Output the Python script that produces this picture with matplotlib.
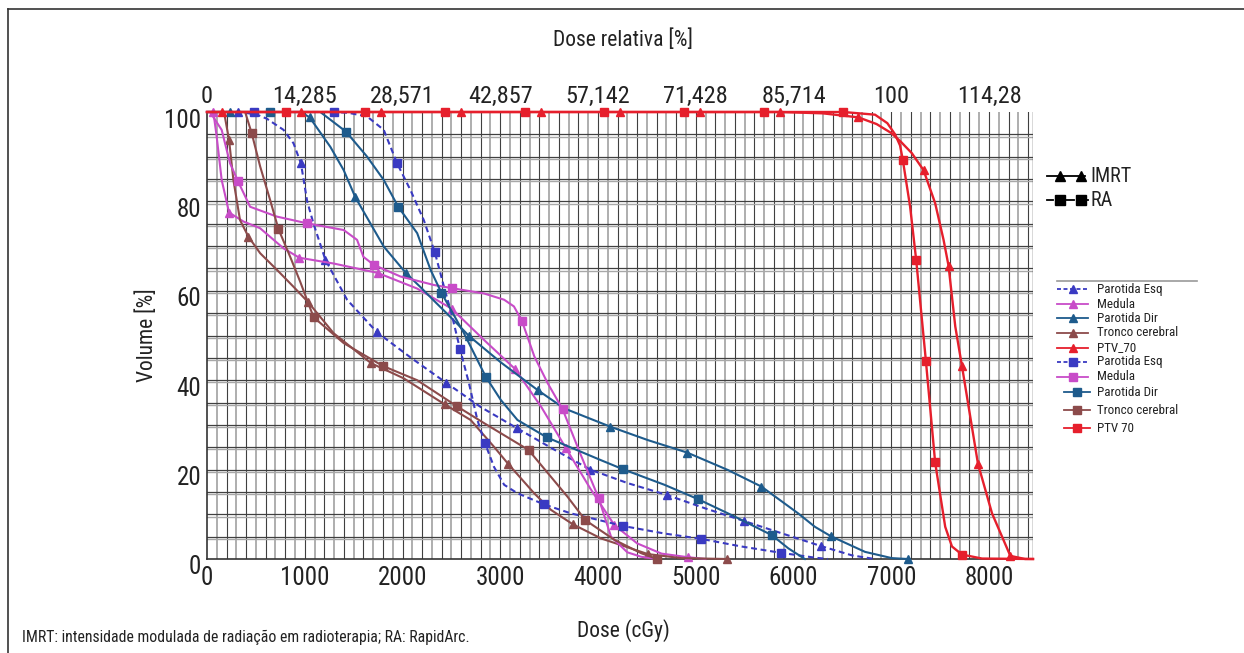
import matplotlib
matplotlib.use("Agg")
import matplotlib.pyplot as plt
import matplotlib.transforms as mtransforms
from matplotlib import font_manager
from matplotlib.lines import Line2D

W, H = 1244, 653

# --- data (dose in cGy, volume in %) ---
esq_imrt_dose = [0, 318, 500, 612, 783, 885, 961, 1025, 1090, 1210, 1433, 1740, 2100, 2448, 2800, 3176,
                 3550, 3921, 4300, 4708, 5100, 5494, 5900, 6280, 6600, 6830]
esq_imrt_vol = [100, 100, 99.5, 98.5, 96, 93, 88.5, 80, 75, 67, 58, 50.7, 44.8, 39.4, 34, 29.2,
                24.5, 20, 17, 14.3, 11.3, 8.5, 5.6, 2.9, 0.8, 0]
esq_imrt_marks = [318, 961, 1210, 1740, 2448, 3176, 3921, 4708, 5494, 6280]

med_imrt_dose = [0, 65, 99, 150, 226, 373, 543, 783, 944, 1296, 1747, 2150, 2503, 2834, 3152, 3420,
                 3672, 3920, 4167, 4400, 4650, 4920, 5100]
med_imrt_vol = [100, 100, 94.5, 84.8, 77.5, 75.5, 74, 69.5, 67.4, 66.1, 64, 60.5, 56, 49, 42.5, 34,
                24.8, 15.8, 7.6, 3.5, 1.2, 0.4, 0]
med_imrt_marks = [65, 226, 944, 1747, 2503, 3152, 3672, 4167, 4920]

dir_imrt_dose = [0, 236, 960, 1050, 1262, 1398, 1518, 1808, 2038, 2185, 2321, 2561, 2680, 3005, 3382,
                 3654, 4126, 4510, 4913, 5330, 5672, 6048, 6219, 6382, 6731, 7005, 7169]
dir_imrt_vol = [100, 100, 100, 98.8, 92.2, 87, 80.9, 69.9, 63.9, 60.8, 57.8, 52.6, 49.9, 44, 37.8,
                33.7, 29.6, 26.6, 23.8, 19.9, 16.2, 10.2, 7.2, 5.1, 1.6, 0.2, 0]
dir_imrt_marks = [236, 1050, 1518, 2038, 2680, 3382, 4126, 4913, 5672, 6382, 7169]

tr_imrt_dose = [0, 174, 226, 270, 338, 424, 544, 715, 885, 1033, 1296, 1679, 2014, 2431, 2697, 2936,
                3080, 3347, 3518, 3740, 4031, 4510, 4851, 5323]
tr_imrt_vol = [100, 100, 93.7, 84.8, 75.8, 72.1, 68.4, 64.7, 60.9, 57.5, 50.5, 43.8, 40.4, 34.6, 31.1,
               25.1, 21.3, 14.7, 11, 7.8, 4.6, 1.1, 0.2, 0]
tr_imrt_marks = [226, 424, 1033, 1679, 2431, 3080, 3740, 4510, 5323]

ptv_imrt_dose = [0, 150, 964, 1785, 2595, 3415, 4229, 5039, 5859, 6300, 6664, 6850, 7000, 7100, 7210,
                 7330, 7449, 7535, 7586, 7655, 7723, 7887, 8031, 8218, 8369, 8450]
ptv_imrt_vol = [100, 100, 100, 100, 100, 100, 100, 100, 100, 99.7, 98.8, 97.3, 95.3, 93.3, 90.8,
                87, 79.6, 71.4, 65.6, 52, 43.2, 21.3, 10.2, 0.7, 0, 0]
ptv_imrt_marks = [150, 964, 1785, 2595, 3415, 4229, 5039, 5859, 6664, 7330, 7586, 7723, 7887, 8218]

esq_ra_dose = [0, 485, 1296, 1450, 1638, 1808, 1945, 2082, 2218, 2331, 2423, 2500, 2588, 2680, 2766,
               2844, 2936, 3040, 3176, 3450, 3723, 4031, 4253, 4680, 5056, 5467, 5867, 6219, 6350]
esq_ra_vol = [100, 100, 100, 99.8, 99, 96, 88.5, 82.5, 75.8, 68.6, 61, 55, 47, 39.3, 31.1,
              25.9, 20.6, 16.6, 14.7, 12.2, 10.2, 8.6, 7.4, 5.7, 4.5, 2.8, 1.4, 0.3, 0]
esq_ra_marks = [485, 1296, 1945, 2331, 2588, 2844, 3450, 4253, 5056, 5867]

med_ra_dose = [0, 31, 150, 236, 315, 441, 715, 1023, 1398, 1535, 1600, 1706, 1979, 2321, 2503, 2834,
               3040, 3140, 3221, 3349, 3486, 3638, 3820, 4007, 4133, 4300, 4441, 4600]
med_ra_vol = [100, 100, 96, 88.5, 84.6, 78.8, 76.6, 75.1, 73.6, 71.4, 67.6, 65.8, 63.2, 61.3, 60.6, 59.4,
              58, 56.5, 53.3, 45.3, 39.3, 33.5, 23.5, 13.6, 5, 1.5, 0.5, 0]
med_ra_marks = [315, 1023, 1706, 2503, 3221, 3638, 4007]

dir_ra_dose = [0, 646, 1159, 1422, 1638, 1808, 1956, 2150, 2287, 2397, 2629, 2851, 3005, 3176, 3477,
               4031, 4253, 4680, 5022, 5398, 5781, 5946, 6116]
dir_ra_vol = [100, 100, 100, 95.6, 90, 84.8, 78.8, 72.9, 64.7, 59.6, 50.5, 40.8, 35.6, 31.1, 27.2,
              22.1, 20.1, 16.6, 13.4, 9.5, 5.3, 2.4, 0]
dir_ra_marks = [646, 1422, 1956, 2397, 2851, 3477, 4253, 5022, 5781]

tr_ra_dose = [0, 390, 458, 544, 646, 731, 851, 954, 1090, 1398, 1798, 2150, 2554, 2834, 3289, 3518,
              3689, 3870, 4167, 4441, 4605]
tr_ra_vol = [100, 100, 95.2, 87.8, 80.3, 73.8, 67.6, 62, 54.1, 48.3, 43.2, 40, 34.2, 30.4, 24.4, 18.4,
             13.9, 8.7, 4.3, 1.3, 0]
tr_ra_marks = [458, 731, 1090, 1798, 2554, 3289, 3870, 4605]

ptv_ra_dose = [0, 810, 1621, 2434, 3254, 4065, 4879, 5695, 6510, 6834, 6960, 7039, 7090, 7118, 7193,
               7255, 7354, 7449, 7552, 7621, 7723, 7928, 8450]
ptv_ra_vol = [100, 100, 100, 100, 100, 100, 100, 100, 100, 99.4, 97.5, 95, 92.5, 89.3, 78.8,
              66.9, 44.4, 21.6, 7.2, 2.8, 1, 0.1, 0]
ptv_ra_marks = [810, 1621, 2434, 3254, 4065, 4879, 5695, 6510, 7118, 7255, 7354, 7449, 7723]

bottom_ticks = [0, 1000, 2000, 3000, 4000, 5000, 6000, 7000, 8000]
top_labels = ['0', '14,285', '28,571', '42,857', '57,142', '71,428', '85,714', '100', '114,28']
y_ticks = [0, 20, 40, 60, 80, 100]

BLUE = '#3a3ac2'
MAGENTA = '#c84cc8'
DBLUE = '#1e5b8c'
BROWN = '#8c4b4b'
RED = '#e61f2c'
TXT = '#222222'
DASH = (2.8, 1.8)

# (dose, vol, marks, color, dashed, marker, label)
series = [
    (esq_imrt_dose, esq_imrt_vol, esq_imrt_marks, BLUE, True, '^', 'Parotida Esq'),
    (med_imrt_dose, med_imrt_vol, med_imrt_marks, MAGENTA, False, '^', 'Medula'),
    (dir_imrt_dose, dir_imrt_vol, dir_imrt_marks, DBLUE, False, '^', 'Parotida Dir'),
    (tr_imrt_dose, tr_imrt_vol, tr_imrt_marks, BROWN, False, '^', 'Tronco cerebral'),
    (ptv_imrt_dose, ptv_imrt_vol, ptv_imrt_marks, RED, False, '^', 'PTV_70'),
    (esq_ra_dose, esq_ra_vol, esq_ra_marks, BLUE, True, 's', 'Parotida Esq'),
    (med_ra_dose, med_ra_vol, med_ra_marks, MAGENTA, False, 's', 'Medula'),
    (dir_ra_dose, dir_ra_vol, dir_ra_marks, DBLUE, False, 's', 'Parotida Dir'),
    (tr_ra_dose, tr_ra_vol, tr_ra_marks, BROWN, False, 's', 'Tronco cerebral'),
    (ptv_ra_dose, ptv_ra_vol, ptv_ra_marks, RED, False, 's', 'PTV 70'),
]

# condensed face if there is one, else Arial-like and a bit smaller
scale = 1.0
family = None
for name, sc in [('Liberation Sans Narrow', 1.0), ('Roboto Condensed', 1.0),
                 ('Liberation Sans', 0.82), ('Roboto', 0.82)]:
    try:
        font_manager.findfont(font_manager.FontProperties(family=name), fallback_to_default=False)
        family, scale = name, sc
        break
    except Exception:
        pass
plt.rcParams['font.family'] = [family, 'DejaVu Sans'] if family else ['DejaVu Sans']
if family is None:
    scale = 0.78


def fs(size):
    return size * scale


def fx(px):
    return px / W


def fy(py):
    return 1 - py / H


fig = plt.figure(figsize=(W / 100, H / 100), dpi=100)
ax = fig.add_axes([fx(207), fy(559), fx(1033) - fx(207), fy(112) - fy(559)])
ax.set_xlim(0, 8450)
ax.set_ylim(0, 100)

# graph-paper grid
for i, g in enumerate(range(100, 8450, 100)):
    if i % 2 == 0:
        ax.axvline(g, color='#a8a8a8', lw=1.3, zorder=1)
    else:
        ax.axvline(g, color='#404040', lw=0.8, zorder=1)
for g in range(5, 100, 5):
    ax.axhline(g - 0.5, color='#a8a8a8', lw=1.0, zorder=1)
    ax.axhline(g, color='#404040', lw=0.9, zorder=1)
ax.axvline(8450, color='#404040', lw=1.0, zorder=1)

for dose, vol, marks, color, dashed, marker, label in series:
    idx = [dose.index(m) for m in marks]
    lw = 1.7 if color == RED else 1.5
    z = 4 if color == RED else 3
    line, = ax.plot(dose, vol, color=color, lw=lw, marker=marker, markersize=5.5,
                    markevery=idx, zorder=z, clip_on=False)
    if dashed:
        line.set_dashes(DASH)

for s in ['left', 'bottom']:
    ax.spines[s].set_color('#333333')
    ax.spines[s].set_linewidth(1.2)
for s in ['top', 'right']:
    ax.spines[s].set_visible(False)

ax.set_xticks(bottom_ticks)
ax.set_xticklabels([str(t) for t in bottom_ticks])
ax.set_yticks(y_ticks)
ax.set_yticklabels([str(t) for t in y_ticks])
ax.tick_params(axis='both', length=0, labelsize=fs(18), labelcolor=TXT)
ax.tick_params(axis='x', pad=5)
ax.tick_params(axis='y', pad=4)
shift = mtransforms.ScaledTranslation(0, -6 / 100, fig.dpi_scale_trans)
for lab in ax.get_yticklabels():
    lab.set_transform(lab.get_transform() + shift)

top = ax.secondary_xaxis('top')
top.set_xticks(bottom_ticks)
top.set_xticklabels(top_labels)
top.tick_params(length=0, labelsize=fs(17.5), labelcolor=TXT, pad=3)
top.spines['top'].set_visible(False)

# axis titles
fig.text(fx(147), fy(335), 'Volume [%]', rotation=90, ha='center', va='center', fontsize=fs(15.5), color=TXT)
fig.text(fx(623), fy(631), 'Dose (cGy)', ha='center', va='center', fontsize=fs(15.5), color=TXT)
fig.text(fx(623), fy(40), 'Dose relativa [%]', ha='center', va='center', fontsize=fs(15.5), color=TXT)
fig.text(fx(22), fy(637), 'IMRT: intensidade modulada de radiação em radioterapia; RA: RapidArc.',
         ha='left', va='center', fontsize=fs(11.3), color=TXT)

# frame lines of the figure box
fig.add_artist(Line2D([fx(8), fx(8)], [0, fy(9)], color='#333333', lw=1.2))
fig.add_artist(Line2D([fx(8), 1], [fy(9), fy(9)], color='#333333', lw=1.2))

# IMRT / RA key
for py, marker, label in [(176, '^', 'IMRT'), (200, 's', 'RA')]:
    if marker == '^':
        fig.add_artist(Line2D([fx(1047), fx(1085)], [fy(py), fy(py)], color='black', lw=1.3))
    else:
        for a, b in [(1047, 1053), (1064, 1074), (1085, 1088)]:
            fig.add_artist(Line2D([fx(a), fx(b)], [fy(py), fy(py)], color='black', lw=1.3))
    fig.add_artist(Line2D([fx(1060), fx(1081)], [fy(py), fy(py)], lw=0, marker=marker,
                          markersize=7, color='black'))
    fig.text(fx(1090), fy(py), label, ha='left', va='center', fontsize=fs(14.5), color=TXT)

# series legend
fig.add_artist(Line2D([fx(1057), fx(1197)], [fy(281), fy(281)], color='#999999', lw=1.2))
rows = [289, 304, 318, 333, 348, 362, 377, 392, 410, 428]
for k, (dose, vol, marks, color, dashed, marker, label) in enumerate(series):
    py = rows[k]
    a, b = (1057, 1088) if k < 7 else (1064, 1090)
    h = Line2D([fx(a), fx(b)], [fy(py), fy(py)], color=color, lw=1.3)
    if dashed:
        h.set_dashes((2.2, 1.4))
    fig.add_artist(h)
    fig.add_artist(Line2D([fx((a + b) / 2)], [fy(py)], lw=0, marker=marker, markersize=6, color=color))
    fig.text(fx(1097), fy(py), label, ha='left', va='center', fontsize=fs(9.4), color=TXT)

fig.savefig('out.png', dpi=100)
